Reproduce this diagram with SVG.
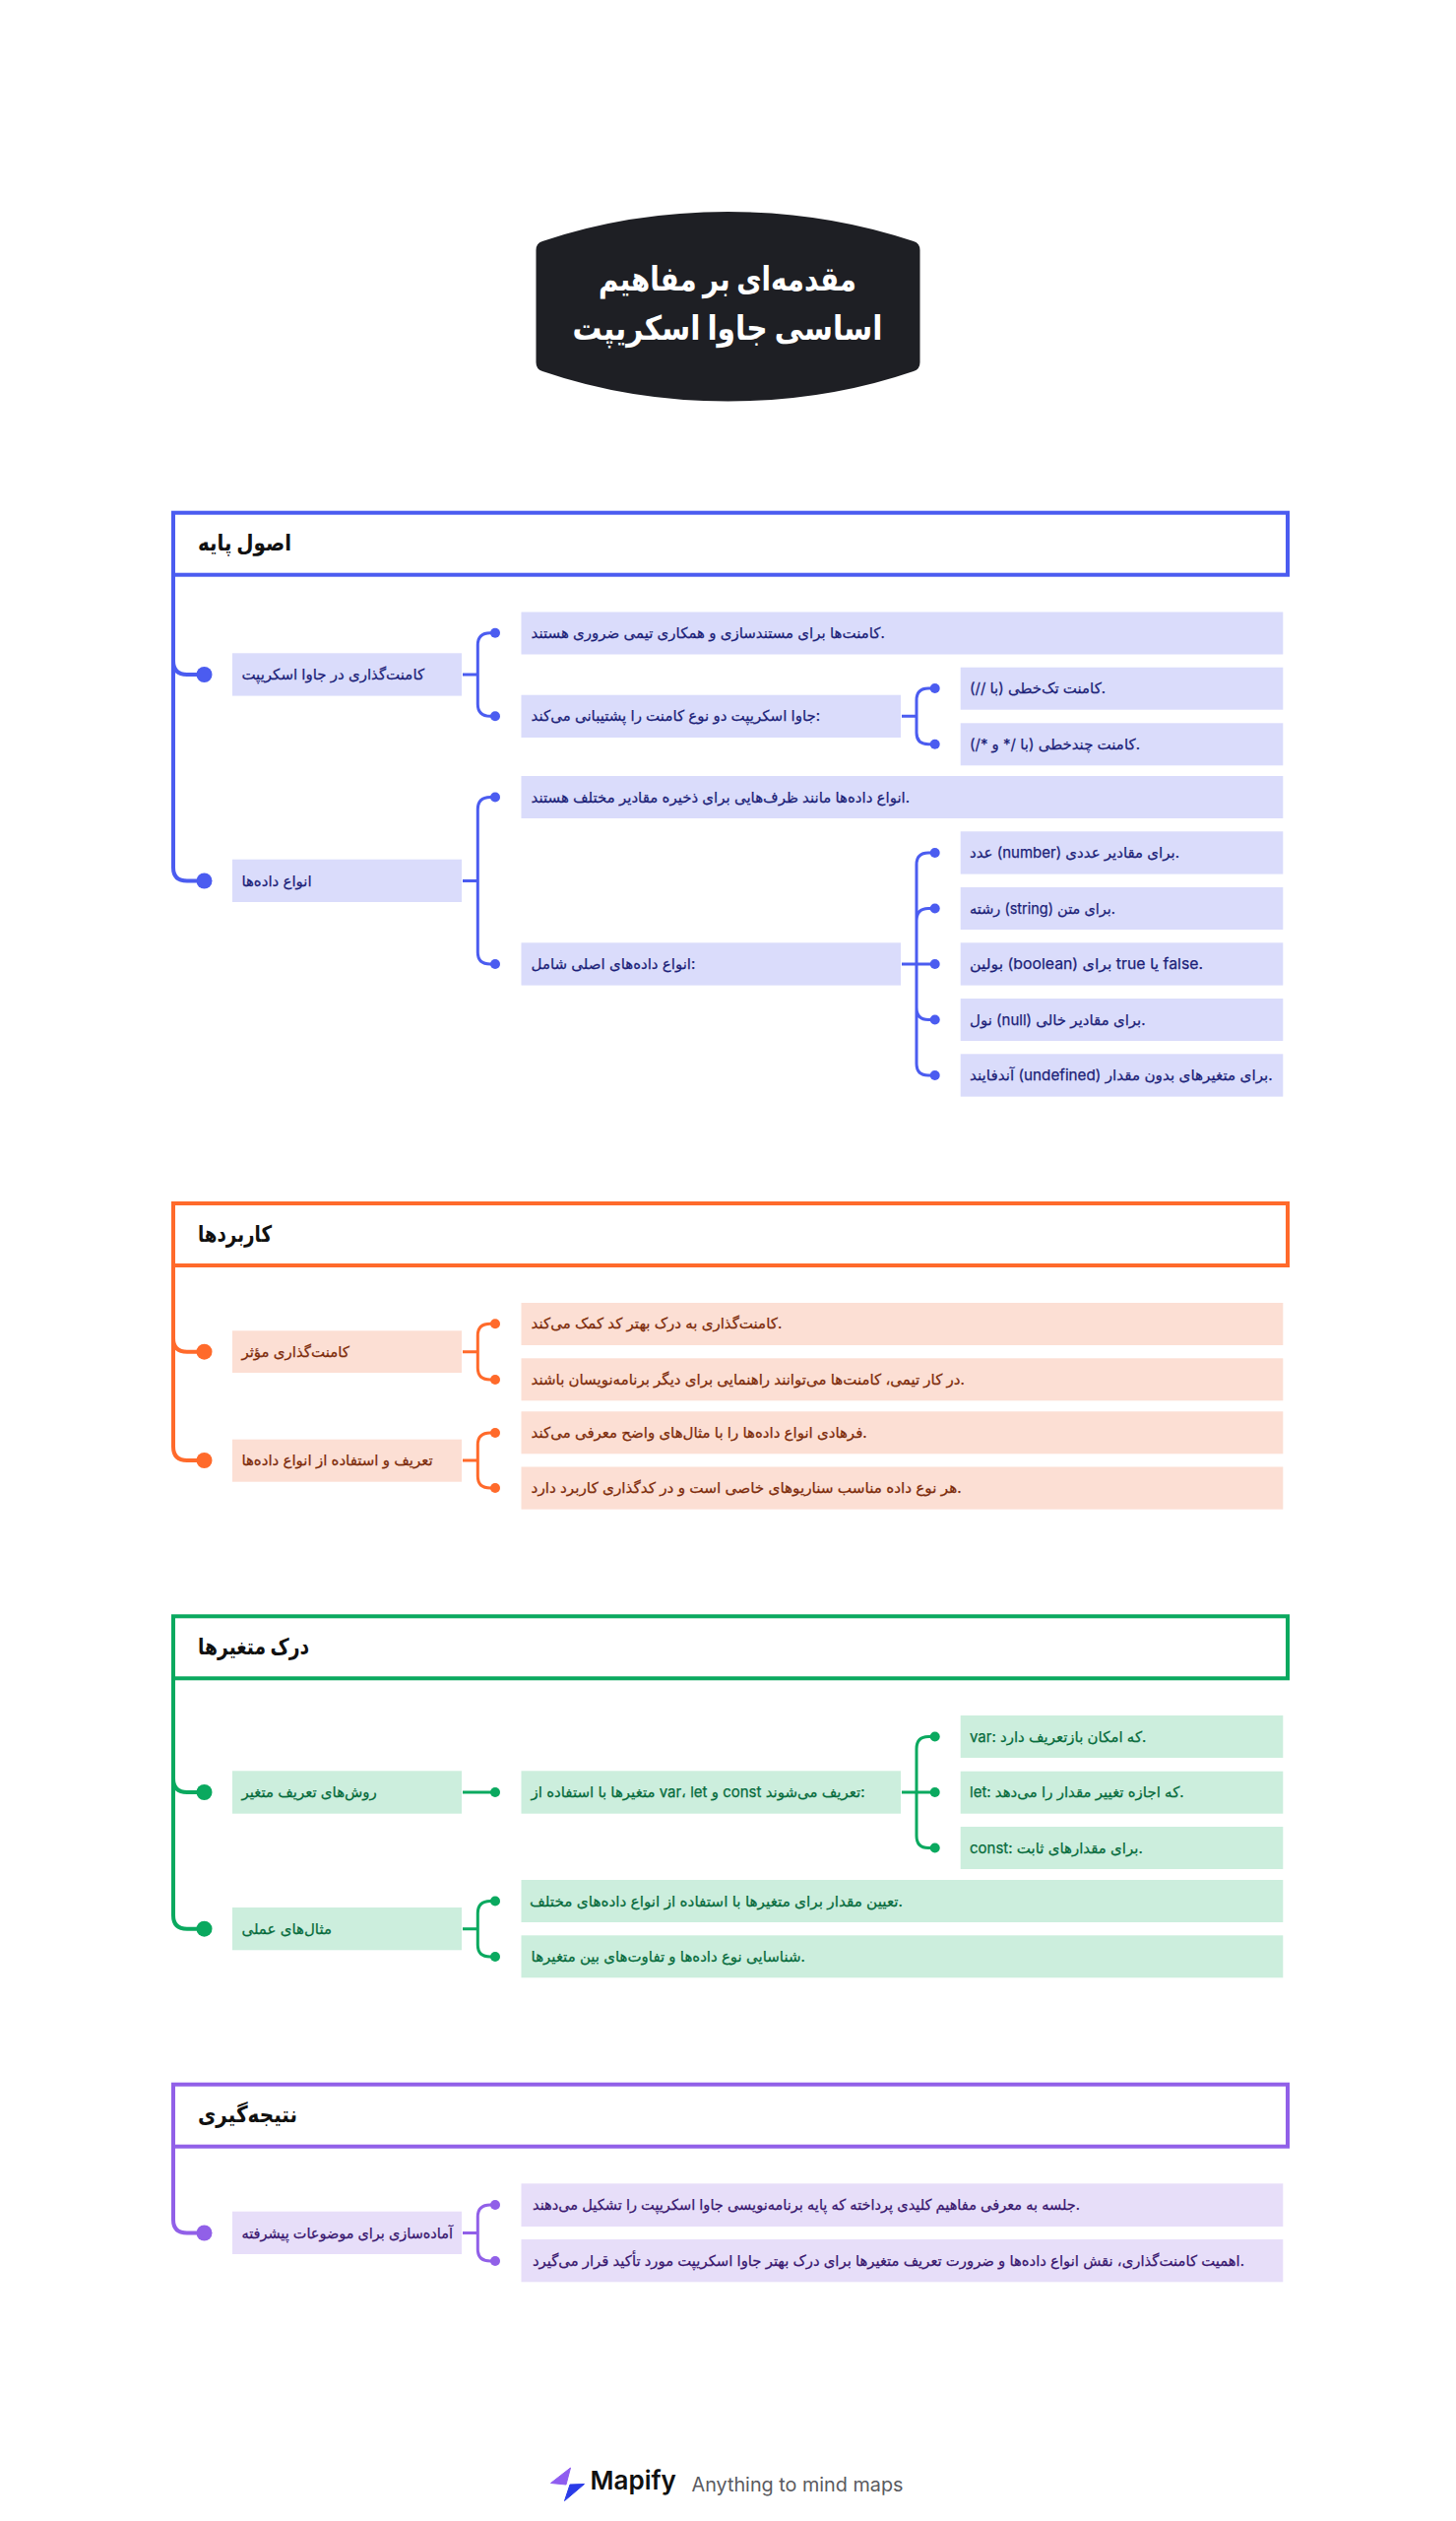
<svg xmlns="http://www.w3.org/2000/svg" width="1479" height="2560" viewBox="0 0 1479 2560">
<style>
text{font-family:"Inter","DejaVu Sans",sans-serif;font-size:15px}
.h{font-size:23px;font-weight:700;fill:#111}
.t{font-size:34px;font-weight:700;fill:#fff;text-anchor:middle}
.w{fill:none;stroke-width:3}
.f{fill:#fff;stroke-width:4}
.x{stroke-width:.25}
.b .w,.b .f{stroke:#4b5cf0}.b circle{fill:#4b5cf0}.b rect.n{fill:#dadcfb}.b text.x{fill:#1c1f78;stroke:#1c1f78}
.o .w,.o .f{stroke:#ff6a2b}.o circle{fill:#ff6a2b}.o rect.n{fill:#fcdfd4}.o text.x{fill:#7c2b0a;stroke:#7c2b0a}
.g .w,.g .f{stroke:#0aa95f}.g circle{fill:#0aa95f}.g rect.n{fill:#cceedd}.g text.x{fill:#066b3c;stroke:#066b3c}
.p .w,.p .f{stroke:#9160e8}.p circle{fill:#9160e8}.p rect.n{fill:#e7def9}.p text.x{fill:#38166e;stroke:#38166e}
</style>
<g id="root"><path d="M544.5 254Q544.5 247 551 245Q640 215 739.500 215Q839 215 928 245Q934.500 247 934.500 254V368Q934.500 375 928 377Q839 407.500 739.500 407.500Q640 407.500 551 377Q544.500 375 544.500 368Z" fill="#1e1f24"/>
<text class="t" x="739" y="295" textLength="262" lengthAdjust="spacingAndGlyphs">مقدمه‌ای بر مفاهیم</text><text class="t" x="739" y="345" textLength="315" lengthAdjust="spacingAndGlyphs">اساسی جاوا اسکریپت</text></g>

<g id="connectors">
<g class="b">
<path class="w" d="M176 584V671Q176 685 190 685H203M176 671V881Q176 894.500 190 894.500H203" style="stroke-width:4"/>
<circle cx="207.500" cy="685" r="8"/><circle cx="207.500" cy="894.500" r="8"/>
<path class="w" d="M470 685H485.300M503 642.700H498Q485.300 642.700 485.300 655V715Q485.300 727.300 498 727.300H503"/>
<circle cx="503" cy="642.700" r="5"/><circle cx="503" cy="727.300" r="5"/>
<path class="w" d="M916 727.300H931M949.700 699H943Q931 699 931 711V744Q931 755.700 943 755.700H949.700"/>
<circle cx="949.700" cy="699" r="5"/><circle cx="949.700" cy="755.700" r="5"/>
<path class="w" d="M470 894.500H485.300M503 809.500H498Q485.300 809.500 485.300 822V967Q485.300 979 498 979H503"/>
<circle cx="503" cy="809.500" r="5"/><circle cx="503" cy="979" r="5"/>
<path class="w" d="M916 979H949.700M949.700 866H943Q931 866 931 878V1080Q931 1092 943 1092H949.700M949.700 922.500H943Q931 922.500 931 935M949.700 1035.500H943Q931 1035.500 931 1023"/>
<circle cx="949.700" cy="866" r="5"/><circle cx="949.700" cy="922.500" r="5"/><circle cx="949.700" cy="979" r="5"/><circle cx="949.700" cy="1035.500" r="5"/><circle cx="949.700" cy="1092" r="5"/>
</g>
<g class="o">
<path class="w" d="M176 1285V1359Q176 1372.700 190 1372.700H203M176 1359V1469Q176 1483 190 1483H203" style="stroke-width:4"/>
<circle cx="207.500" cy="1372.700" r="8"/><circle cx="207.500" cy="1483" r="8"/>
<path class="w" d="M470 1372.700H485.300M503 1344.300H498Q485.300 1344.300 485.300 1356V1389Q485.300 1401 498 1401H503"/>
<circle cx="503" cy="1344.300" r="5"/><circle cx="503" cy="1401" r="5"/>
<path class="w" d="M470 1483H485.300M503 1455H498Q485.300 1455 485.300 1467V1499Q485.300 1511 498 1511H503"/>
<circle cx="503" cy="1455" r="5"/><circle cx="503" cy="1511" r="5"/>
</g>
<g class="g">
<path class="w" d="M176 1704V1806Q176 1820 190 1820H203M176 1806V1945Q176 1958.700 190 1958.700H203" style="stroke-width:4"/>
<circle cx="207.500" cy="1820" r="8"/><circle cx="207.500" cy="1958.700" r="8"/>
<path class="w" d="M470 1820H503"/><circle cx="503" cy="1820" r="5"/>
<path class="w" d="M916 1820H949.700M949.700 1763.500H943Q931 1763.500 931 1776V1864Q931 1876.500 943 1876.500H949.700"/>
<circle cx="949.700" cy="1763.500" r="5"/><circle cx="949.700" cy="1820" r="5"/><circle cx="949.700" cy="1876.500" r="5"/>
<path class="w" d="M470 1958.700H485.300M503 1930.500H498Q485.300 1930.500 485.300 1943V1975Q485.300 1987 498 1987H503"/>
<circle cx="503" cy="1930.500" r="5"/><circle cx="503" cy="1987" r="5"/>
</g>
<g class="p">
<path class="w" d="M176 2180V2254Q176 2267.500 190 2267.500H203" style="stroke-width:4"/>
<circle cx="207.500" cy="2267.500" r="8"/>
<path class="w" d="M470 2267.500H485.300M503 2239H498Q485.300 2239 485.300 2251V2284Q485.300 2296 498 2296H503"/>
<circle cx="503" cy="2239" r="5"/><circle cx="503" cy="2296" r="5"/>
</g>
</g>

<g class="b">
<g id="s1"><rect class="f" x="176" y="520.700" width="1132" height="63"/><text class="h" x="201" y="559" textLength="95" lengthAdjust="spacingAndGlyphs">اصول پایه</text></g>
<g id="s1n1"><rect class="n" x="236" y="663.300" width="233" height="43.300"/><text class="x" x="245.400" y="690">کامنت‌گذاری در جاوا اسکریپت</text></g>
<g id="s1n2"><rect class="n" x="236" y="872.700" width="233" height="43.300"/><text class="x" x="245.400" y="899.500">انواع داده‌ها</text></g>
<g id="s1c1"><rect class="n" x="529.500" y="621.500" width="773.800" height="43"/><text class="x" x="539.600" y="648">کامنت‌ها برای مستندسازی و همکاری تیمی ضروری هستند.</text></g>
<g id="s1c2"><rect class="n" x="529.500" y="705.700" width="385.500" height="43.300"/><text class="x" x="539.600" y="732.300">جاوا اسکریپت دو نوع کامنت را پشتیبانی می‌کند:</text></g>
<g id="s1c3"><rect class="n" x="529.500" y="788" width="773.800" height="43"/><text class="x" x="539.600" y="814.500">انواع داده‌ها مانند ظرف‌هایی برای ذخیره مقادیر مختلف هستند.</text></g>
<g id="s1c4"><rect class="n" x="529.500" y="957.300" width="385.500" height="43.300"/><text class="x" x="539.600" y="984">انواع داده‌های اصلی شامل:</text></g>
<g id="s1d1"><rect class="n" x="975.700" y="677.700" width="327.600" height="43"/><text class="x" x="985" y="704">کامنت تک‌خطی (با //).</text></g>
<g id="s1d2"><rect class="n" x="975.700" y="734.300" width="327.600" height="43"/><text class="x" x="985" y="760.700">کامنت چندخطی (با /* و */).</text></g>
<g id="s1e1"><rect class="n" x="975.700" y="844.300" width="327.600" height="43.300"/><text class="x" x="985" y="871">عدد (number) برای مقادیر عددی.</text></g>
<g id="s1e2"><rect class="n" x="975.700" y="901" width="327.600" height="43"/><text class="x" x="985" y="927.500" textLength="148" lengthAdjust="spacingAndGlyphs">رشته (string) برای متن.</text></g>
<g id="s1e3"><rect class="n" x="975.700" y="957.300" width="327.600" height="43.300"/><text class="x" x="985" y="984" textLength="237" lengthAdjust="spacingAndGlyphs">بولین (boolean) برای true یا false.</text></g>
<g id="s1e4"><rect class="n" x="975.700" y="1014" width="327.600" height="43"/><text class="x" x="985" y="1040.500">نول (null) برای مقادیر خالی.</text></g>
<g id="s1e5"><rect class="n" x="975.700" y="1070.300" width="327.600" height="43.300"/><text class="x" x="985" y="1097" textLength="307.700" lengthAdjust="spacingAndGlyphs">آندفایند (undefined) برای متغیرهای بدون مقدار.</text></g>
</g>

<g class="o">
<g id="s2"><rect class="f" x="176" y="1222" width="1132" height="63"/><text class="h" x="201" y="1260.500" textLength="75" lengthAdjust="spacingAndGlyphs">کاربردها</text></g>
<g id="s2n1"><rect class="n" x="236" y="1351.300" width="233" height="42.700"/><text class="x" x="245.400" y="1377.700">کامنت‌گذاری مؤثر</text></g>
<g id="s2n2"><rect class="n" x="236" y="1461.700" width="233" height="43"/><text class="x" x="245.400" y="1488">تعریف و استفاده از انواع داده‌ها</text></g>
<g id="s2c1"><rect class="n" x="529.500" y="1323" width="773.800" height="43"/><text class="x" x="539.600" y="1349.300">کامنت‌گذاری به درک بهتر کد کمک می‌کند.</text></g>
<g id="s2c2"><rect class="n" x="529.500" y="1379.300" width="773.800" height="43"/><text class="x" x="539.600" y="1406">در کار تیمی، کامنت‌ها می‌توانند راهنمایی برای دیگر برنامه‌نویسان باشند.</text></g>
<g id="s2c3"><rect class="n" x="529.500" y="1433.300" width="773.800" height="43"/><text class="x" x="539.600" y="1460">فرهادی انواع داده‌ها را با مثال‌های واضح معرفی می‌کند.</text></g>
<g id="s2c4"><rect class="n" x="529.500" y="1489.500" width="773.800" height="43.200"/><text class="x" x="539.600" y="1516" textLength="437" lengthAdjust="spacingAndGlyphs">هر نوع داده مناسب سناریوهای خاصی است و در کدگذاری کاربرد دارد.</text></g>
</g>

<g class="g">
<g id="s3"><rect class="f" x="176" y="1641.300" width="1132" height="63"/><text class="h" x="201" y="1679.500" textLength="113" lengthAdjust="spacingAndGlyphs">درک متغیرها</text></g>
<g id="s3n1"><rect class="n" x="236" y="1798.300" width="233" height="43.400"/><text class="x" x="245.400" y="1825">روش‌های تعریف متغیر</text></g>
<g id="s3n2"><rect class="n" x="236" y="1937" width="233" height="43.300"/><text class="x" x="245.400" y="1963.700">مثال‌های عملی</text></g>
<g id="s3c1"><rect class="n" x="529.500" y="1798.300" width="385.500" height="43.400"/><text class="x" x="539.600" y="1825">متغیرها با استفاده از var، let و const تعریف می‌شوند:</text></g>
<g id="s3c2"><rect class="n" x="529.500" y="1909" width="773.800" height="43"/><text class="x" x="538" y="1935.500" textLength="379" lengthAdjust="spacingAndGlyphs">تعیین مقدار برای متغیرها با استفاده از انواع داده‌های مختلف.</text></g>
<g id="s3c3"><rect class="n" x="529.500" y="1965.300" width="773.800" height="43"/><text class="x" x="539.600" y="1992">شناسایی نوع داده‌ها و تفاوت‌های بین متغیرها.</text></g>
<g id="s3d1"><rect class="n" x="975.700" y="1742" width="327.600" height="43"/><text class="x" x="985" y="1768.500">var: که امکان بازتعریف دارد.</text></g>
<g id="s3d2"><rect class="n" x="975.700" y="1798.700" width="327.600" height="43"/><text class="x" x="985" y="1825">let: که اجازه تغییر مقدار را می‌دهد.</text></g>
<g id="s3d3"><rect class="n" x="975.700" y="1855" width="327.600" height="43"/><text class="x" x="985" y="1881.500">const: برای مقدارهای ثابت.</text></g>
</g>

<g class="p">
<g id="s4"><rect class="f" x="176" y="2116.700" width="1132" height="63"/><text class="h" x="201" y="2155" textLength="101" lengthAdjust="spacingAndGlyphs">نتیجه‌گیری</text></g>
<g id="s4n1"><rect class="n" x="236" y="2245.700" width="233" height="43.300"/><text class="x" x="245.400" y="2272.500" textLength="214.600" lengthAdjust="spacingAndGlyphs">آماده‌سازی برای موضوعات پیشرفته</text></g>
<g id="s4c1"><rect class="n" x="529.500" y="2217.300" width="773.800" height="43.700"/><text class="x" x="541" y="2244" textLength="556" lengthAdjust="spacingAndGlyphs">جلسه به معرفی مفاهیم کلیدی پرداخته که پایه برنامه‌نویسی جاوا اسکریپت را تشکیل می‌دهند.</text></g>
<g id="s4c2"><rect class="n" x="529.500" y="2274" width="773.800" height="43.300"/><text class="x" x="541" y="2301" textLength="723" lengthAdjust="spacingAndGlyphs">اهمیت کامنت‌گذاری، نقش انواع داده‌ها و ضرورت تعریف متغیرها برای درک بهتر جاوا اسکریپت مورد تأکید قرار می‌گیرد.</text></g>
</g>

<g id="brand">
<path d="M579.500 2506L559.500 2521.500L575 2523Z" fill="#8f5cf0" stroke="#8f5cf0" stroke-linejoin="round"/><path d="M593.500 2522.500L573.500 2539.500L579 2523Z" fill="#2a3be8" stroke="#2a3be8" stroke-linejoin="round"/>
<text x="599.500" y="2528" style="font-size:26px;font-weight:600;fill:#111">Mapify</text>
<text x="702.500" y="2530" style="font-size:19.800px;fill:#5a5a60">Anything to mind maps</text>
</g>
</svg>
